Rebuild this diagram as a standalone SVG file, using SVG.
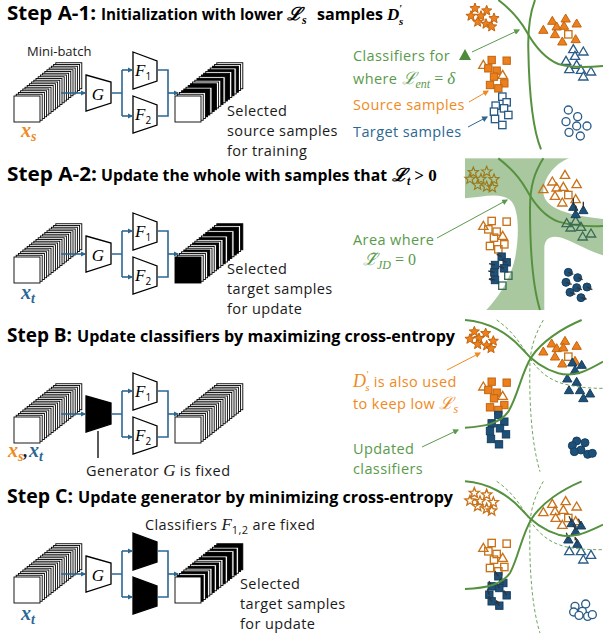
<svg xmlns="http://www.w3.org/2000/svg" width="603" height="638" viewBox="0 0 603 638">
<style>
.t{font-family:"Open Sans","Liberation Sans",sans-serif}
.ttl{font-weight:700;fill:#000}
.bd{font-size:14.5px;letter-spacing:0.4px;fill:#1a1a1a}
.lb{font-size:14.5px;letter-spacing:0.4px}
.m{font-family:"Liberation Serif","DejaVu Serif",serif;font-style:italic;letter-spacing:0}
.mb{font-family:"Liberation Serif","DejaVu Serif",serif;font-style:italic;font-weight:700}
.up{font-family:"Liberation Serif","DejaVu Serif",serif;font-style:normal;letter-spacing:0}
.sl{fill:#fff;stroke:#000;stroke-width:0.9}
.sk{fill:#000;stroke:#000;stroke-width:0.9}
.trap{fill:#fff;stroke:#000;stroke-width:1.3}
.trapk{fill:#000;stroke:#000;stroke-width:1.3}
.flow{fill:none;stroke:#2c6792;stroke-width:1.6}
.fl{fill:none;stroke:#2c6792;stroke-width:1.6;marker-end:url(#mb)}
.gr{fill:#5a9a4c}
.or{fill:#ef8a22}
.bl{fill:#2c6792}
.cv{fill:none;stroke:#56913f;stroke-width:6}
.dv{fill:none;stroke:#6ea55a;stroke-width:3;stroke-dasharray:10 7}
.sf{fill:#ee7f1d;stroke:#c0650f;stroke-width:3}
.so{fill:#fff;stroke:#c8721a;stroke-width:4}
.son{fill:none;stroke:#c8721a;stroke-width:4}
.bf{fill:#1e5078;stroke:#163f60;stroke-width:3}
.bo{fill:#fff;stroke:#2b5c88;stroke-width:4}
.tg{fill:none;stroke:#3b6b58;stroke-width:4}
.ol{fill:none;stroke:#9c7a1c;stroke-width:3.5}
.ka{fill:none;stroke:#333;stroke-width:4;marker-end:url(#mk)}
</style>
<defs>
<marker id="mb" viewBox="0 0 10 10" refX="8" refY="5" markerWidth="3.2" markerHeight="3.2" orient="auto"><path d="M0,0 L10,5 L0,10 z" fill="#2c6792"/></marker>
<marker id="mg" viewBox="0 0 10 10" refX="8" refY="5" markerWidth="6" markerHeight="6" orient="auto"><path d="M0,0 L10,5 L0,10 z" fill="#5a9a4c"/></marker>
<marker id="mo" viewBox="0 0 10 10" refX="8" refY="5" markerWidth="6" markerHeight="6" orient="auto"><path d="M0,0 L10,5 L0,10 z" fill="#ef8a22"/></marker>
<marker id="mbl" viewBox="0 0 10 10" refX="8" refY="5" markerWidth="6" markerHeight="6" orient="auto"><path d="M0,0 L10,5 L0,10 z" fill="#2c6792"/></marker>
<marker id="mk" viewBox="0 0 10 10" refX="8" refY="5" markerWidth="2.6" markerHeight="2.6" orient="auto"><path d="M0,0 L10,5 L0,10 z" fill="#333"/></marker>
<path id="st" d="M0,-16 L4.11,-5.66 L15.22,-4.94 L6.66,2.16 L9.4,12.94 L0,7 L-9.4,12.94 L-6.66,2.16 L-15.22,-4.94 L-4.11,-5.66 Z"/>
<path id="tr" d="M0,-16 L14,8 L-14,8 Z"/>
<rect id="sq" x="-11" y="-11" width="22" height="22"/>
<circle id="ci" r="12"/>
<g id="stackW">
<rect class="sl" x="41.8" y="-33.25" width="26" height="26"/><rect class="sl" x="39.6" y="-31.5" width="26" height="26"/><rect class="sl" x="37.4" y="-29.75" width="26" height="26"/><rect class="sl" x="35.2" y="-28" width="26" height="26"/><rect class="sl" x="33" y="-26.25" width="26" height="26"/><rect class="sl" x="30.8" y="-24.5" width="26" height="26"/><rect class="sl" x="28.6" y="-22.75" width="26" height="26"/><rect class="sl" x="26.4" y="-21" width="26" height="26"/><rect class="sl" x="24.2" y="-19.25" width="26" height="26"/><rect class="sl" x="22" y="-17.5" width="26" height="26"/><rect class="sl" x="19.8" y="-15.75" width="26" height="26"/><rect class="sl" x="17.6" y="-14" width="26" height="26"/><rect class="sl" x="15.4" y="-12.25" width="26" height="26"/><rect class="sl" x="13.2" y="-10.5" width="26" height="26"/><rect class="sl" x="11" y="-8.75" width="26" height="26"/><rect class="sl" x="8.8" y="-7" width="26" height="26"/><rect class="sl" x="6.6" y="-5.25" width="26" height="26"/><rect class="sl" x="4.4" y="-3.5" width="26" height="26"/><rect class="sl" x="2.2" y="-1.75" width="26" height="26"/><rect class="sl" x="0" y="0" width="26" height="26"/>
</g>
<g id="stackA1">
<rect class="sl" x="41.8" y="-33.25" width="26" height="26"/><rect class="sl" x="39.6" y="-31.5" width="26" height="26"/><rect class="sk" x="37.4" y="-29.75" width="26" height="26"/><rect class="sl" x="35.2" y="-28" width="26" height="26"/><rect class="sk" x="33" y="-26.25" width="26" height="26"/><rect class="sl" x="30.8" y="-24.5" width="26" height="26"/><rect class="sk" x="28.6" y="-22.75" width="26" height="26"/><rect class="sk" x="26.4" y="-21" width="26" height="26"/><rect class="sl" x="24.2" y="-19.25" width="26" height="26"/><rect class="sk" x="22" y="-17.5" width="26" height="26"/><rect class="sl" x="19.8" y="-15.75" width="26" height="26"/><rect class="sl" x="17.6" y="-14" width="26" height="26"/><rect class="sk" x="15.4" y="-12.25" width="26" height="26"/><rect class="sk" x="13.2" y="-10.5" width="26" height="26"/><rect class="sl" x="11" y="-8.75" width="26" height="26"/><rect class="sk" x="8.8" y="-7" width="26" height="26"/><rect class="sk" x="6.6" y="-5.25" width="26" height="26"/><rect class="sl" x="4.4" y="-3.5" width="26" height="26"/><rect class="sl" x="2.2" y="-1.75" width="26" height="26"/><rect class="sl" x="0" y="0" width="26" height="26"/>
</g>
<g id="stackA2">
<rect class="sk" x="41.8" y="-33.25" width="26" height="26"/><rect class="sl" x="39.6" y="-31.5" width="26" height="26"/><rect class="sk" x="37.4" y="-29.75" width="26" height="26"/><rect class="sk" x="35.2" y="-28" width="26" height="26"/><rect class="sl" x="33" y="-26.25" width="26" height="26"/><rect class="sk" x="30.8" y="-24.5" width="26" height="26"/><rect class="sk" x="28.6" y="-22.75" width="26" height="26"/><rect class="sl" x="26.4" y="-21" width="26" height="26"/><rect class="sk" x="24.2" y="-19.25" width="26" height="26"/><rect class="sl" x="22" y="-17.5" width="26" height="26"/><rect class="sl" x="19.8" y="-15.75" width="26" height="26"/><rect class="sk" x="17.6" y="-14" width="26" height="26"/><rect class="sl" x="15.4" y="-12.25" width="26" height="26"/><rect class="sl" x="13.2" y="-10.5" width="26" height="26"/><rect class="sl" x="11" y="-8.75" width="26" height="26"/><rect class="sk" x="8.8" y="-7" width="26" height="26"/><rect class="sl" x="6.6" y="-5.25" width="26" height="26"/><rect class="sl" x="4.4" y="-3.5" width="26" height="26"/><rect class="sl" x="2.2" y="-1.75" width="26" height="26"/><rect class="sk" x="0" y="0" width="26" height="26"/>
</g>
<g id="stackC">
<rect class="sk" x="41.8" y="-33.25" width="26" height="26"/><rect class="sk" x="39.6" y="-31.5" width="26" height="26"/><rect class="sl" x="37.4" y="-29.75" width="26" height="26"/><rect class="sk" x="35.2" y="-28" width="26" height="26"/><rect class="sl" x="33" y="-26.25" width="26" height="26"/><rect class="sk" x="30.8" y="-24.5" width="26" height="26"/><rect class="sk" x="28.6" y="-22.75" width="26" height="26"/><rect class="sl" x="26.4" y="-21" width="26" height="26"/><rect class="sk" x="24.2" y="-19.25" width="26" height="26"/><rect class="sl" x="22" y="-17.5" width="26" height="26"/><rect class="sl" x="19.8" y="-15.75" width="26" height="26"/><rect class="sk" x="17.6" y="-14" width="26" height="26"/><rect class="sl" x="15.4" y="-12.25" width="26" height="26"/><rect class="sk" x="13.2" y="-10.5" width="26" height="26"/><rect class="sl" x="11" y="-8.75" width="26" height="26"/><rect class="sl" x="8.8" y="-7" width="26" height="26"/><rect class="sk" x="6.6" y="-5.25" width="26" height="26"/><rect class="sl" x="4.4" y="-3.5" width="26" height="26"/><rect class="sk" x="2.2" y="-1.75" width="26" height="26"/><rect class="sl" x="0" y="0" width="26" height="26"/>
</g>
</defs>
<rect width="603" height="638" fill="#fff"/>

<!-- ================= STEP A-1 ================= -->
<g id="stepA1">
<text class="t ttl" x="7" y="20" font-size="20" textLength="89" lengthAdjust="spacingAndGlyphs">Step A-1:</text>
<text class="t ttl" x="101" y="20" font-size="15.5" textLength="182" lengthAdjust="spacingAndGlyphs">Initialization with lower</text>
<text class="mb" x="287" y="20" font-size="18">ℒ<tspan font-size="12" dy="4">s</tspan></text>
<text class="t ttl" x="317" y="20" font-size="15.5" textLength="66" lengthAdjust="spacingAndGlyphs">samples</text>
<text class="mb" x="387" y="20" font-size="17">D<tspan font-size="10" dy="-8">′</tspan><tspan font-size="11" dx="-3" dy="13">s</tspan></text>
<text class="t" x="27" y="56" font-size="13" fill="#1a1a1a">Mini-batch</text>
<g id="a1-input"><use href="#stackW" x="14" y="96"/></g>
<g id="a1-G"><polygon class="trap" points="86,75 111,82 111,103 86,111"/><text class="m" x="98" y="100" font-size="17" text-anchor="middle">G</text></g>
<g id="a1-F1"><polygon class="trap" points="133,52 157,61 157,81 133,89"/><text class="m" x="135" y="76" font-size="17">F<tspan class="t" font-style="normal" font-size="10" dy="4">1</tspan></text></g>
<g id="a1-F2"><polygon class="trap" points="133,96 157,105 157,125 133,133"/><text class="m" x="135" y="120" font-size="17">F<tspan class="t" font-style="normal" font-size="10" dy="4">2</tspan></text></g>
<g id="a1-output"><use href="#stackA1" x="175" y="96"/></g>
<g id="a1-connectors">
<path class="fl" d="M61,93 H85"/><path class="flow" d="M111,93 H122 M122,70 V116 M157,70 H168 V116 H157"/>
<path class="fl" d="M122,70 H132"/><path class="fl" d="M122,116 H132"/><path class="fl" d="M168,93 H178"/>
</g>
<text class="mb or" x="21" y="137" font-size="20">x<tspan font-size="14" dy="4">s</tspan></text>
<text class="t bd" x="227" y="116">Selected<tspan x="227" dy="20">source samples</tspan><tspan x="227" dy="20">for training</tspan></text>
<text class="t gr lb" x="353" y="61">Classifiers for<tspan x="353" dy="23">where </tspan><tspan class="m" font-size="17">ℒ</tspan><tspan class="m" font-size="12" dy="4">ent</tspan><tspan class="up" font-size="16" dy="-4"> = </tspan><tspan class="m" font-size="17">δ</tspan></text>
<polygon points="459,60 471,60 465,49" fill="#4e8a3a"/>
<text class="t or lb" x="353" y="110">Source samples</text>
<text class="t bl lb" x="353" y="137">Target samples</text>
<g id="a1-legend-arrows">
<path d="M472,52 L519,30" stroke="#5a9a4c" stroke-width="1" fill="none" marker-end="url(#mg)"/>
<path d="M469,102 L488,91" stroke="#ef8a22" stroke-width="1" fill="none" marker-end="url(#mo)"/>
<path d="M468,127 L487,117" stroke="#2c6792" stroke-width="1" fill="none" marker-end="url(#mbl)"/>
</g>
<g id="a1-plot" transform="translate(455,0) scale(0.33333)">
<use href="#st" class="sf" x="60" y="25"/><use href="#st" class="sf" x="95" y="32"/><use href="#st" class="sf" x="48" y="48"/><use href="#st" class="sf" x="78" y="48"/><use href="#st" class="sf" x="117" y="55"/><use href="#st" class="sf" x="68" y="66"/><use href="#st" class="sf" x="93" y="72"/><use href="#st" class="sf" x="110" y="80"/>
<use href="#tr" class="sf" x="292" y="65"/><use href="#tr" class="sf" x="332" y="58"/><use href="#tr" class="sf" x="365" y="73"/><use href="#tr" class="sf" x="265" y="92"/><use href="#tr" class="sf" x="305" y="82"/><use href="#tr" class="sf" x="327" y="80"/><use href="#tr" class="sf" x="300" y="105"/><use href="#tr" class="sf" x="322" y="127"/><use href="#tr" class="sf" x="362" y="120"/>
<use href="#sq" class="so" x="340" y="103"/>
<use href="#tr" class="bo" x="355" y="150"/><use href="#tr" class="bo" x="385" y="157"/><use href="#tr" class="bo" x="360" y="170"/><use href="#tr" class="bo" x="333" y="185"/><use href="#tr" class="bo" x="365" y="197"/><use href="#tr" class="bo" x="343" y="210"/><use href="#tr" class="bo" x="378" y="212"/><use href="#tr" class="bo" x="408" y="217"/><use href="#tr" class="bo" x="385" y="232"/>
<use href="#sq" class="sf" x="110" y="180"/><use href="#sq" class="sf" x="155" y="182"/><use href="#tr" class="so" x="85" y="197"/><use href="#sq" class="sf" x="100" y="205"/><use href="#sq" class="sf" x="125" y="212"/><use href="#tr" class="so" x="143" y="227"/><use href="#sq" class="sf" x="117" y="230"/><use href="#sq" class="sf" x="148" y="250"/><use href="#sq" class="sf" x="105" y="255"/><use href="#sq" class="sf" x="130" y="265"/>
<use href="#sq" class="bo" x="142" y="290"/><use href="#sq" class="bo" x="155" y="307"/><use href="#sq" class="bo" x="122" y="317"/><use href="#sq" class="bo" x="147" y="325"/><use href="#sq" class="bo" x="117" y="335"/><use href="#sq" class="bo" x="160" y="345"/><use href="#sq" class="bo" x="120" y="357"/><use href="#sq" class="bo" x="142" y="375"/>
<use href="#ci" class="bo" x="340" y="330"/><use href="#ci" class="bo" x="368" y="350"/><use href="#ci" class="bo" x="333" y="365"/><use href="#ci" class="bo" x="365" y="378"/><use href="#ci" class="bo" x="396" y="378"/><use href="#ci" class="bo" x="342" y="397"/><use href="#ci" class="bo" x="376" y="408"/>
<path class="cv" d="M130,0 C170,30 195,60 215,95 C240,140 270,175 310,192 C350,205 400,202 444,198"/>
<path class="cv" d="M240,0 C225,40 218,80 220,150 C222,260 230,380 258,448"/>
</g>
</g>

<!-- ================= STEP A-2 ================= -->
<g id="stepA2">
<text class="t ttl" x="7" y="181" font-size="20" textLength="90" lengthAdjust="spacingAndGlyphs">Step A-2:</text>
<text class="t ttl" x="101" y="181" font-size="15.5" textLength="286" lengthAdjust="spacingAndGlyphs">Update the whole with samples that</text>
<text class="mb" x="392" y="181" font-size="18">ℒ<tspan font-size="12" dy="4">t</tspan><tspan class="up" font-weight="700" font-size="17" dy="-4" dx="4">&gt; 0</tspan></text>
<g transform="translate(0,161)">
<g id="a2-input"><use href="#stackW" x="14" y="96"/></g>
<g id="a2-G"><polygon class="trap" points="86,75 111,82 111,103 86,111"/><text class="m" x="98" y="100" font-size="17" text-anchor="middle">G</text></g>
<g id="a2-F1"><polygon class="trap" points="133,52 157,61 157,81 133,89"/><text class="m" x="135" y="76" font-size="17">F<tspan class="t" font-style="normal" font-size="10" dy="4">1</tspan></text></g>
<g id="a2-F2"><polygon class="trap" points="133,96 157,105 157,125 133,133"/><text class="m" x="135" y="120" font-size="17">F<tspan class="t" font-style="normal" font-size="10" dy="4">2</tspan></text></g>
<g id="a2-output"><use href="#stackA2" x="175" y="96"/></g>
<g id="a2-connectors">
<path class="fl" d="M61,93 H85"/><path class="flow" d="M111,93 H122 M122,70 V116 M157,70 H168 V116 H157"/>
<path class="fl" d="M122,70 H132"/><path class="fl" d="M122,116 H132"/><path class="fl" d="M168,93 H178"/>
</g>
</g>
<text class="mb bl" x="21" y="299" font-size="20">x<tspan font-size="14" dy="4">t</tspan></text>
<text class="t bd" x="227" y="274">Selected<tspan x="227" dy="20">target samples</tspan><tspan x="227" dy="20">for update</tspan></text>
<g id="a2-plot" transform="translate(455,155) scale(0.33333)">
<rect x="30" y="10" width="414" height="455" fill="#a9c8a0"/>
<path fill="#fff" d="M345,8 C300,25 268,65 265,105 C262,150 310,178 444,192 L448,192 L448,8 Z"/>
<path fill="#fff" d="M268,470 L268,280 C268,245 295,238 330,252 C370,268 410,292 448,302 L448,470 Z"/>
<path fill="#fff" d="M-5,130 L30,130 C80,128 130,110 165,135 C195,160 192,250 180,310 C165,380 120,440 88,470 L-5,470 Z"/>
<path class="cv" d="M130,10 C170,40 195,70 215,105 C240,150 270,185 310,200 C350,212 400,215 444,213"/>
<path class="cv" d="M265,10 C240,50 225,90 225,160 C225,270 232,390 255,465"/>
<use href="#st" class="ol" x="55" y="52"/><use href="#st" class="ol" x="95" y="50"/><use href="#st" class="ol" x="45" y="72"/><use href="#st" class="ol" x="78" y="72"/><use href="#st" class="ol" x="117" y="73"/><use href="#st" class="ol" x="68" y="90"/><use href="#st" class="ol" x="95" y="95"/><use href="#st" class="ol" x="112" y="97"/>
<use href="#tr" class="son" x="265" y="105"/><use href="#tr" class="son" x="292" y="82"/><use href="#tr" class="son" x="330" y="62"/><use href="#tr" class="son" x="365" y="90"/><use href="#tr" class="son" x="305" y="100"/><use href="#tr" class="son" x="325" y="98"/><use href="#tr" class="son" x="300" y="125"/><use href="#tr" class="son" x="322" y="145"/><use href="#tr" class="son" x="362" y="135"/>
<use href="#sq" class="son" x="340" y="120"/>
<use href="#tr" class="tg" x="335" y="207"/><use href="#tr" class="tg" x="362" y="200"/><use href="#tr" class="tg" x="347" y="220"/><use href="#tr" class="tg" x="378" y="218"/><use href="#tr" class="tg" x="408" y="238"/><use href="#tr" class="tg" x="383" y="247"/>
<use href="#tr" class="bf" x="355" y="158"/><use href="#tr" class="bf" x="385" y="168"/><use href="#tr" class="bf" x="362" y="180"/>
<path class="ka" d="M355,150 V130 M385,160 V140 M362,172 V152"/>
<use href="#sq" class="son" x="110" y="198"/><use href="#sq" class="son" x="155" y="200"/><use href="#tr" class="son" x="85" y="215"/><use href="#sq" class="son" x="100" y="223"/><use href="#sq" class="son" x="125" y="230"/><use href="#tr" class="son" x="143" y="245"/><use href="#sq" class="son" x="117" y="248"/><use href="#sq" class="son" x="148" y="268"/><use href="#sq" class="son" x="105" y="273"/><use href="#sq" class="son" x="130" y="283"/>
<use href="#sq" class="tg" x="160" y="362"/><use href="#sq" class="tg" x="142" y="392"/>
<use href="#sq" class="bf" x="140" y="305"/><use href="#sq" class="bf" x="155" y="322"/><use href="#sq" class="bf" x="120" y="330"/><use href="#sq" class="bf" x="147" y="340"/><use href="#sq" class="bf" x="118" y="352"/><use href="#sq" class="bf" x="120" y="375"/>
<path class="ka" d="M140,305 L125,298 M155,322 L140,315 M120,330 L102,326 M147,340 L132,334 M118,352 L100,348 M120,375 L102,372"/>
<use href="#ci" class="bf" x="340" y="352"/><use href="#ci" class="bf" x="368" y="368"/><use href="#ci" class="bf" x="333" y="382"/><use href="#ci" class="bf" x="365" y="398"/><use href="#ci" class="bf" x="396" y="396"/><use href="#ci" class="bf" x="345" y="412"/><use href="#ci" class="bf" x="378" y="428"/>
<path class="ka" d="M340,352 L355,358 M368,368 L383,374 M333,382 L350,388 M365,398 L381,404 M396,396 L412,404 M345,412 L361,418 M378,428 L394,432"/>
</g>
<path d="M437,238 L507,200" stroke="#5a9a4c" stroke-width="1" fill="none" marker-end="url(#mg)"/>
<text class="t gr lb" x="353" y="245">Area where<tspan class="m" x="363" dy="20" font-size="17">ℒ̃</tspan><tspan class="m" font-size="12" dy="4">JD</tspan><tspan class="up" font-size="16" dy="-4"> = 0</tspan></text>
</g>

<!-- ================= STEP B ================= -->
<g id="stepB">
<text class="t ttl" x="7" y="342" font-size="20" textLength="65" lengthAdjust="spacingAndGlyphs">Step B:</text>
<text class="t ttl" x="77" y="342" font-size="15.5" textLength="378" lengthAdjust="spacingAndGlyphs">Update classifiers by maximizing cross-entropy</text>
<g transform="translate(0,321)">
<g id="b-input"><use href="#stackW" x="14" y="96"/></g>
<g id="b-G"><polygon class="trapk" points="86,75 111,82 111,103 86,111"/><path d="M98,110 V137" stroke="#000" stroke-width="1.3"/></g>
<g id="b-F1"><polygon class="trap" points="133,52 157,61 157,81 133,89"/><text class="m" x="135" y="76" font-size="17">F<tspan class="t" font-style="normal" font-size="10" dy="4">1</tspan></text></g>
<g id="b-F2"><polygon class="trap" points="133,96 157,105 157,125 133,133"/><text class="m" x="135" y="120" font-size="17">F<tspan class="t" font-style="normal" font-size="10" dy="4">2</tspan></text></g>
<g id="b-output"><use href="#stackW" x="175" y="96"/></g>
<g id="b-connectors">
<path class="fl" d="M61,93 H85"/><path class="flow" d="M111,93 H122 M122,70 V116 M157,70 H168 V116 H157"/>
<path class="fl" d="M122,70 H132"/><path class="fl" d="M122,116 H132"/><path class="fl" d="M168,93 H178"/>
</g>
</g>
<text class="mb or" x="8" y="457" font-size="20">x<tspan font-size="14" dy="4">s</tspan><tspan fill="#1a1a1a" font-size="18" dy="-4">,</tspan><tspan class="bl" dx="1">x</tspan><tspan class="bl" font-size="14" dy="4">t</tspan></text>
<text class="t bd" x="86" y="476">Generator <tspan class="m" font-size="17">G</tspan> is fixed</text>
<text class="m or" x="353" y="387" font-size="18">D<tspan font-size="10" dy="-9">′</tspan><tspan font-size="11" dx="-3" dy="13">s</tspan><tspan class="t lb" font-style="normal" dy="-4"> is also used</tspan></text>
<text class="t or lb" x="353" y="409">to keep low <tspan class="m" font-size="17">ℒ</tspan><tspan class="m" font-size="12" dy="4">s</tspan></text>
<text class="t gr lb" x="353" y="454">Updated<tspan x="353" dy="20">classifiers</tspan></text>
<path d="M447,370 L480,353" stroke="#ef8a22" stroke-width="1" fill="none" marker-end="url(#mo)"/>
<path d="M422,447 L458,430" stroke="#5a9a4c" stroke-width="1" fill="none" marker-end="url(#mg)"/>
<g id="b-plot" transform="translate(455,315) scale(0.33333)">
<use href="#st" class="sf" x="58" y="50"/><use href="#st" class="sf" x="92" y="55"/><use href="#st" class="sf" x="45" y="72"/><use href="#st" class="sf" x="72" y="70"/><use href="#st" class="sf" x="115" y="78"/><use href="#st" class="sf" x="68" y="88"/><use href="#st" class="sf" x="95" y="92"/><use href="#st" class="sf" x="108" y="100"/>
<use href="#tr" class="sf" x="265" y="112"/><use href="#tr" class="sf" x="290" y="88"/><use href="#tr" class="sf" x="330" y="80"/><use href="#tr" class="sf" x="365" y="95"/><use href="#tr" class="sf" x="305" y="102"/><use href="#tr" class="sf" x="325" y="100"/><use href="#tr" class="sf" x="300" y="127"/><use href="#tr" class="sf" x="322" y="148"/><use href="#tr" class="sf" x="360" y="140"/>
<use href="#sq" class="so" x="340" y="125"/>
<use href="#tr" class="bf" x="352" y="145"/><use href="#tr" class="bf" x="380" y="152"/><use href="#tr" class="bf" x="360" y="168"/><use href="#tr" class="bf" x="337" y="193"/><use href="#tr" class="bf" x="365" y="203"/><use href="#tr" class="bf" x="342" y="228"/><use href="#tr" class="bf" x="375" y="228"/><use href="#tr" class="bf" x="405" y="238"/><use href="#tr" class="bf" x="385" y="252"/>
<use href="#sq" class="sf" x="110" y="200"/><use href="#sq" class="sf" x="155" y="203"/><use href="#tr" class="so" x="85" y="217"/><use href="#sq" class="sf" x="100" y="225"/><use href="#sq" class="sf" x="125" y="233"/><use href="#tr" class="so" x="143" y="245"/><use href="#sq" class="sf" x="117" y="250"/><use href="#sq" class="sf" x="148" y="270"/><use href="#sq" class="sf" x="105" y="277"/><use href="#sq" class="sf" x="130" y="285"/>
<use href="#sq" class="bf" x="130" y="300"/><use href="#sq" class="bf" x="148" y="320"/><use href="#sq" class="bf" x="110" y="325"/><use href="#sq" class="bf" x="135" y="340"/><use href="#sq" class="bf" x="105" y="348"/><use href="#sq" class="bf" x="153" y="358"/><use href="#sq" class="bf" x="108" y="372"/><use href="#sq" class="bf" x="132" y="388"/>
<use href="#ci" class="bf" x="365" y="378"/><use href="#ci" class="bf" x="390" y="383"/><use href="#ci" class="bf" x="352" y="392"/><use href="#ci" class="bf" x="378" y="405"/><use href="#ci" class="bf" x="358" y="410"/><use href="#ci" class="bf" x="398" y="418"/><use href="#ci" class="bf" x="412" y="415"/>
<path class="dv" d="M125,15 C170,45 200,90 225,130 C255,175 290,200 340,210 C380,218 410,220 444,220"/>
<path class="dv" d="M265,15 C245,50 228,90 225,140 C222,250 228,380 255,470"/>
<path class="cv" d="M30,15 C100,20 160,55 200,100 C225,130 260,160 310,175 C360,188 400,165 444,140"/>
<path class="cv" d="M380,15 C320,40 260,80 230,125 C200,170 190,240 160,290 C135,325 90,335 30,338"/>
</g>
</g>

<!-- ================= STEP C ================= -->
<g id="stepC">
<text class="t ttl" x="7" y="503" font-size="20" textLength="66" lengthAdjust="spacingAndGlyphs">Step C:</text>
<text class="t ttl" x="78" y="503" font-size="15.5" textLength="375" lengthAdjust="spacingAndGlyphs">Update generator by minimizing cross-entropy</text>
<text class="t bd" x="145" y="530">Classifiers <tspan class="m" font-size="17">F</tspan><tspan font-size="11" dy="4">1,2</tspan><tspan dy="-4"> are fixed</tspan></text>
<g transform="translate(0,481)">
<g id="c-input"><use href="#stackW" x="14" y="96"/></g>
<g id="c-G"><polygon class="trap" points="86,75 111,82 111,103 86,111"/><text class="m" x="98" y="100" font-size="17" text-anchor="middle">G</text></g>
<g id="c-F1"><polygon class="trapk" points="133,52 157,61 157,81 133,89"/></g>
<g id="c-F2"><polygon class="trapk" points="133,96 157,105 157,125 133,133"/></g>
<g id="c-output"><use href="#stackC" x="175" y="96"/></g>
<g id="c-connectors">
<path class="fl" d="M61,93 H85"/><path class="flow" d="M111,93 H122 M122,70 V116 M157,70 H168 V116 H157"/>
<path class="fl" d="M122,70 H132"/><path class="fl" d="M122,116 H132"/><path class="fl" d="M168,93 H178"/>
</g>
</g>
<text class="mb bl" x="21" y="620" font-size="20">x<tspan font-size="14" dy="4">t</tspan></text>
<text class="t bd" x="240" y="589">Selected<tspan x="240" dy="20">target samples</tspan><tspan x="240" dy="20">for update</tspan></text>
<g id="c-plot" transform="translate(455,478) scale(0.33333)">
<use href="#st" class="son" x="58" y="45"/><use href="#st" class="son" x="95" y="50"/><use href="#st" class="son" x="45" y="68"/><use href="#st" class="son" x="75" y="70"/><use href="#st" class="son" x="115" y="73"/><use href="#st" class="son" x="68" y="85"/><use href="#st" class="son" x="95" y="92"/><use href="#st" class="son" x="110" y="98"/>
<use href="#tr" class="son" x="265" y="105"/><use href="#tr" class="son" x="292" y="80"/><use href="#tr" class="son" x="332" y="72"/><use href="#tr" class="son" x="365" y="88"/><use href="#tr" class="son" x="300" y="102"/><use href="#tr" class="son" x="325" y="98"/><use href="#tr" class="son" x="302" y="122"/><use href="#tr" class="son" x="322" y="143"/><use href="#tr" class="son" x="362" y="132"/>
<use href="#sq" class="son" x="340" y="120"/>
<use href="#tr" class="bo" x="343" y="222"/><use href="#tr" class="bo" x="378" y="222"/><use href="#tr" class="bo" x="408" y="233"/><use href="#tr" class="bo" x="385" y="247"/>
<use href="#tr" class="bf" x="350" y="138"/><use href="#tr" class="bf" x="378" y="145"/><use href="#tr" class="bf" x="362" y="162"/><use href="#tr" class="bf" x="340" y="187"/><use href="#tr" class="bf" x="367" y="200"/>
<path class="ka" d="M350,132 L342,115 M378,139 L370,122 M362,156 L354,139 M340,181 L334,164 M367,194 L360,178"/>
<use href="#sq" class="son" x="110" y="195"/><use href="#sq" class="son" x="155" y="197"/><use href="#tr" class="son" x="85" y="212"/><use href="#sq" class="son" x="100" y="220"/><use href="#sq" class="son" x="125" y="228"/><use href="#tr" class="son" x="143" y="242"/><use href="#sq" class="son" x="117" y="245"/><use href="#sq" class="son" x="148" y="267"/><use href="#sq" class="son" x="105" y="270"/><use href="#sq" class="son" x="130" y="280"/>
<use href="#sq" class="bf" x="130" y="295"/><use href="#sq" class="bf" x="145" y="315"/><use href="#sq" class="bf" x="110" y="325"/><use href="#sq" class="bf" x="133" y="330"/><use href="#sq" class="bf" x="103" y="350"/><use href="#sq" class="bf" x="155" y="352"/><use href="#sq" class="bf" x="110" y="370"/><use href="#sq" class="bf" x="133" y="383"/>
<path class="ka" d="M130,295 L120,279 M145,315 L135,300 M110,325 L102,309 M133,330 L124,315 M103,350 L97,334 M155,352 L146,337 M110,370 L101,355 M133,383 L124,368"/>
<use href="#ci" class="bo" x="360" y="385"/><use href="#ci" class="bo" x="392" y="378"/><use href="#ci" class="bo" x="356" y="402"/><use href="#ci" class="bo" x="382" y="400"/><use href="#ci" class="bo" x="372" y="412"/><use href="#ci" class="bo" x="398" y="415"/><use href="#ci" class="bo" x="412" y="410"/>
<path class="dv" d="M125,10 C170,40 200,85 225,128 C255,172 290,198 340,208 C380,215 410,215 444,215"/>
<path class="dv" d="M265,10 C245,45 228,85 225,135 C222,245 228,380 255,465"/>
<path class="cv" d="M30,10 C100,15 160,50 200,95 C225,125 260,155 310,170 C360,183 400,160 444,140"/>
<path class="cv" d="M380,10 C320,35 260,75 230,122 C200,170 190,240 165,285 C140,320 95,330 30,333"/>
</g>
</g>
</svg>
